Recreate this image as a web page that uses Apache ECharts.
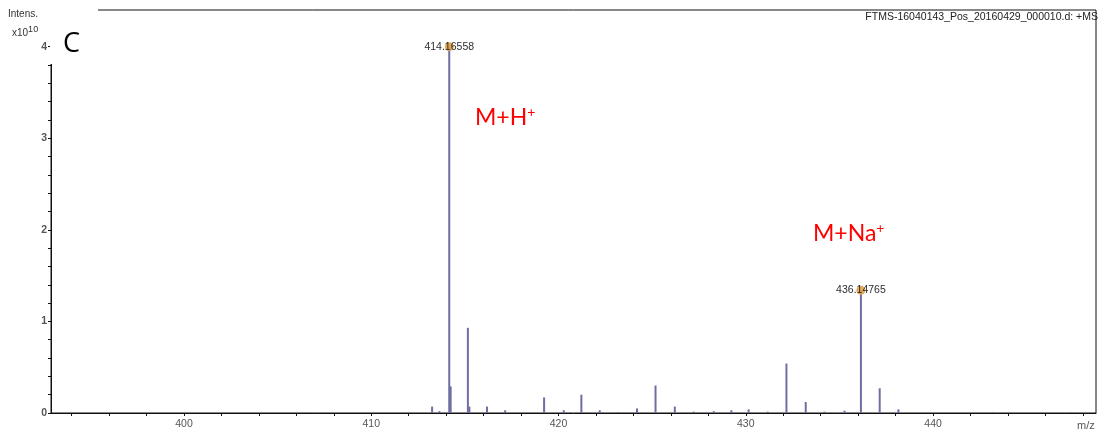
<!DOCTYPE html>
<html>
<head>
<meta charset="utf-8">
<script src="https://cdn.jsdelivr.net/npm/echarts@6/dist/echarts.min.js"></script>
<style>
html,body{margin:0;padding:0;background:#fff;}
#chart{width:1101px;height:434px;}
</style>
</head>
<body>
<div id="chart"></div>
<script>
// m/z values of the peaks
const peakMz = [413.25, 413.64, 414.16558, 414.24, 415.16, 415.24, 416.18, 417.15, 419.23, 420.28,
  421.22, 422.2, 423.18, 424.19, 425.18, 426.21, 427.22, 428.29, 429.23, 430.15,
  431.17, 432.17, 433.2, 434.2, 435.27, 436.14765, 437.15, 438.15, 443.2, 447.36];
// intensities (x10^10)
const peakIntensity = [0.07, 0.02, 4.0, 0.29, 0.93, 0.07, 0.07, 0.03, 0.17, 0.03,
  0.2, 0.03, 0.01, 0.05, 0.3, 0.07, 0.015, 0.02, 0.03, 0.04,
  0.015, 0.54, 0.12, 0.015, 0.025, 1.34, 0.27, 0.04, 0.006, 0.006];
// labelled peaks
const labelMz = [414.16558, 436.14765];
const labelIntensity = [4.0, 1.34];
// axis labels
const xLabelValues = [400, 410, 420, 430, 440];
const yLabelValues = [0, 1, 2, 3, 4];

const chart = echarts.init(document.getElementById('chart'));
const font = 'Liberation Sans, Arial, sans-serif';
const barData = peakMz.map((m, i) => [m, peakIntensity[i]]);
const markData = labelMz.map((m, i) => [m, labelIntensity[i]]);

chart.setOption({
  animation: false,
  backgroundColor: '#fff',
  grid: {left: 51, right: 5, top: 10, bottom: 21, show: true, borderColor: '#111', borderWidth: 1, backgroundColor: 'transparent'},
  xAxis: {
    type: 'value', min: 392.9, max: 448.7, splitNumber: 28, minInterval: 2, maxInterval: 2,
    axisLine: {onZero: false, lineStyle: {color: '#111', width: 1}},
    axisTick: {show: true, length: 3, lineStyle: {color: '#111'}},
    splitLine: {show: false},
    axisLabel: {
      color: '#555', fontSize: 10.5, fontFamily: font, margin: 6,
      showMinLabel: false, showMaxLabel: false,
      formatter: v => xLabelValues.some(x => Math.abs(x - v) < 1e-6) ? String(Math.round(v)) : ''
    }
  },
  yAxis: {
    type: 'value', min: 0, max: 4.4, interval: 0.2,
    axisLine: {show: true, lineStyle: {color: '#111', width: 1}},
    axisTick: {show: true, length: 3, lineStyle: {color: '#111'}},
    splitLine: {show: false},
    axisLabel: {
      color: '#555', fontSize: 10.5, fontFamily: font, margin: 4, fontWeight: 'bold',
      formatter: v => yLabelValues.some(y => Math.abs(y - v) < 1e-6) ? String(Math.round(v)) : ''
    }
  },
  series: [
    {
      type: 'bar', data: barData, barWidth: 2, itemStyle: {color: '#6e6ea2'}, z: 2
    },
    {
      type: 'scatter', data: markData, symbolSize: 9, z: 4,
      itemStyle: {color: '#e0a552', opacity: 0.95},
      label: {
        show: true, position: 'inside', color: '#222', fontSize: 10.5, fontFamily: font,
        formatter: p => p.value[0].toFixed(5)
      }
    }
  ],
  graphic: [
    {type: 'rect', z: 50, shape: {x: 0, y: 0, width: 98, height: 40}, style: {fill: '#fff'}},
    {type: 'rect', z: 50, shape: {x: 50, y: 0, width: 48, height: 64}, style: {fill: '#fff'}},
    {type: 'text', z: 60, x: 8, y: 9, style: {text: 'Intens.', fontSize: 10, fontFamily: font, fill: '#333'}},
    {type: 'text', z: 60, x: 12, y: 25, style: {
      text: '{a|x10}{s|10}', fontFamily: font,
      rich: {a: {fontSize: 10, fill: '#333', fontFamily: font}, s: {fontSize: 9, fill: '#333', fontFamily: font, padding: [0, 0, 7, 0]}}
    }},
    {type: 'text', z: 60, x: 63, y: 31, style: {text: 'C', fontSize: 27, fontFamily: 'Open Sans, sans-serif', fill: '#000'}},
    {type: 'text', z: 60, right: 3, y: 12, style: {text: 'FTMS-16040143_Pos_20160429_000010.d: +MS', fontSize: 10.5, fontFamily: font, fill: '#222'}},
    {type: 'text', z: 60, x: 1077, y: 420, style: {text: 'm/z', fontSize: 11, fontFamily: font, fill: '#555'}},
    {type: 'text', z: 60, x: 475, y: 105, style: {
      text: '{a|M+H}{s|+}',
      rich: {a: {fontSize: 23, fill: '#ff0000', fontFamily: 'Lato, Open Sans, sans-serif'}, s: {fontSize: 14, fill: '#ff0000', fontFamily: 'Lato, sans-serif', padding: [0, 0, 12, 0]}}
    }},
    {type: 'text', z: 60, x: 813, y: 221, style: {
      text: '{a|M+Na}{s|+}',
      rich: {a: {fontSize: 23, fill: '#ff0000', fontFamily: 'Lato, Open Sans, sans-serif'}, s: {fontSize: 14, fill: '#ff0000', fontFamily: 'Lato, sans-serif', padding: [0, 0, 12, 0]}}
    }}
  ]
});
</script>
</body>
</html>
